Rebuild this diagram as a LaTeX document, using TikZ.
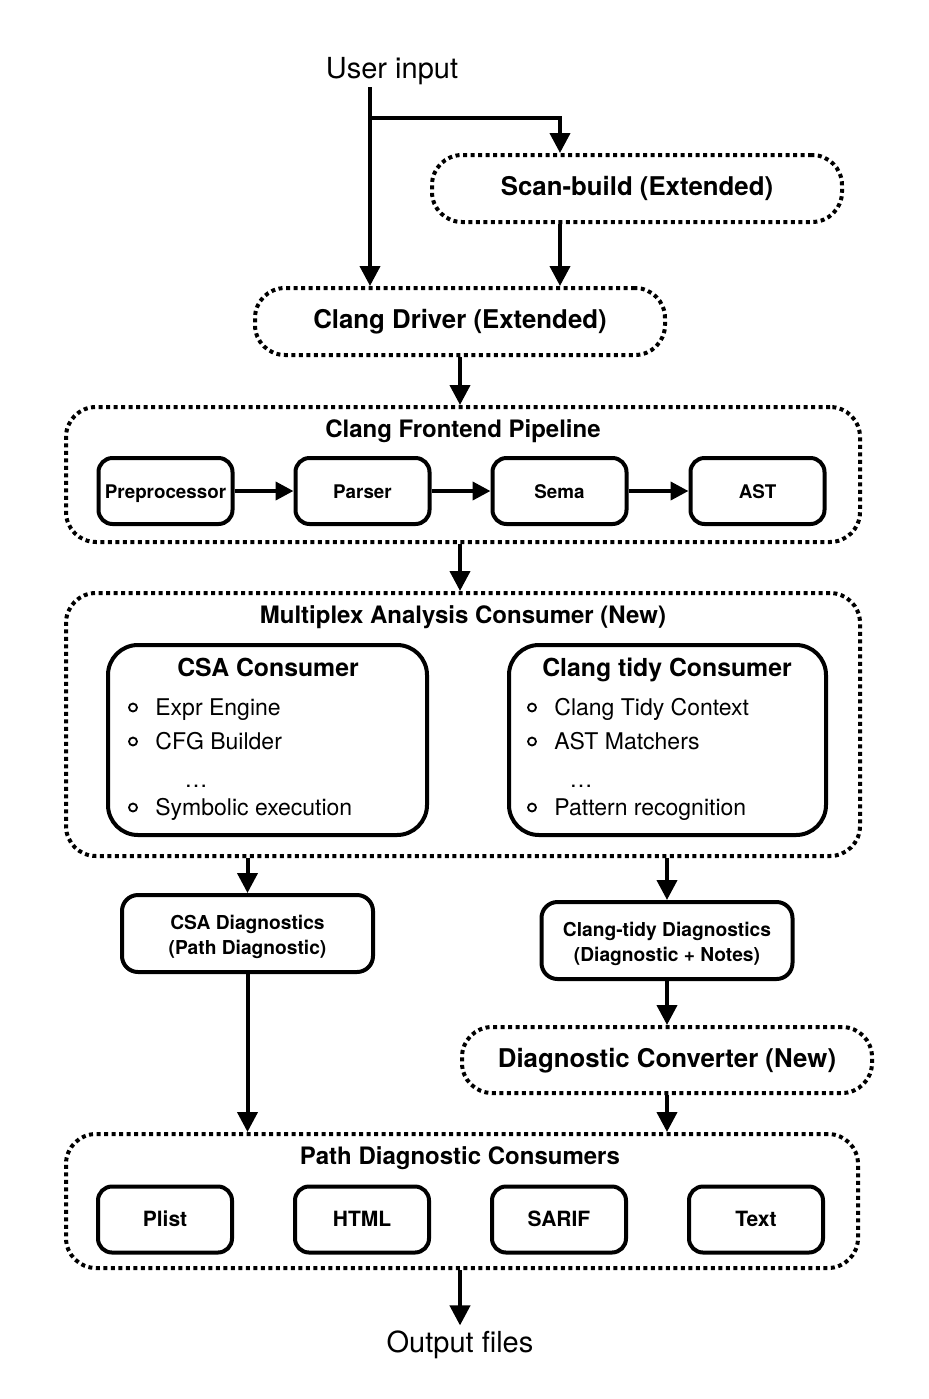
\documentclass[tikz,border=0pt]{standalone}
\usepackage{fontspec}
\setmainfont{TeX Gyre Heros}
\usetikzlibrary{arrows.meta,calc}
\begin{document}
\begin{tikzpicture}[x=0.5pt,y=-0.5pt,
  capc/.style={text height=0.72em, text depth=0pt},
  dotbox/.style={draw, line width=2pt, dash pattern=on 2pt off 1.75pt, rounded corners=15pt, inner sep=0pt, capc},
  solidbox/.style={draw, line width=2pt, rounded corners=7pt, inner sep=0pt, minimum width=67pt, minimum height=33pt, font=\fontsize{9.4}{11}\selectfont\bfseries, capc},
  consbox/.style={draw, line width=2pt, rounded corners=15pt, inner sep=0pt, minimum height=95pt},
  diagbox/.style={draw, line width=2pt, rounded corners=8pt, inner sep=0pt, minimum width=125.5pt, minimum height=38.5pt},
  diagtext/.style={align=center, inner sep=0pt, font=\fontsize{9.6}{12.5}\selectfont\bfseries},
  big/.style={font=\fontsize{12.9}{15}\selectfont\bfseries},
  ttl/.style={font=\fontsize{12}{14}\selectfont\bfseries, inner sep=0pt, capc},
  ctitle/.style={font=\fontsize{12.4}{14}\selectfont\bfseries, inner sep=0pt, capc},
  item/.style={font=\fontsize{11.5}{13}\selectfont, anchor=west, inner sep=0pt, capc},
  bul/.style={draw, circle, line width=0.9pt, minimum size=4pt, inner sep=0pt},
  io/.style={font=\fontsize{14.5}{16}\selectfont, inner sep=6pt, capc},
  arr/.style={line width=2pt, -{Triangle[width=10pt,length=10pt]}},
  sarr/.style={line width=2pt, -{Triangle[width=9pt,length=9pt]}}
]
\useasboundingbox (0,0) rectangle (929,1399);

% top
\node[io] (user) at (392,71) {User input};
\node[dotbox, big, minimum width=205pt, minimum height=33.5pt] (scan) at (637,188.5) {Scan-build (Extended)};
\node[dotbox, big, minimum width=205pt, minimum height=33.5pt] (driver) at (460,321.5) {Clang Driver (Extended)};
\coordinate (u0) at (370,87);
\coordinate (ub) at (370,118);
\coordinate (sx) at (560,0);
\coordinate (xa) at (460,0);
\draw[arr] (u0) -- (u0 |- driver.north);
\draw[arr] (ub) -| (scan.north -| sx);
\draw[arr] (scan.south -| sx) -- (driver.north -| sx);

% frontend
\node[dotbox, minimum width=397pt, minimum height=67.5pt] (fe) at (463,474.5) {};
\node[ttl] (fet) at (463,430) {Clang Frontend Pipeline};
\node[solidbox] (pre) at (165.5,491) {Preprocessor};
\node[solidbox] (par) at (362.5,491) {Parser};
\node[solidbox] (sem) at (559.5,491) {Sema};
\node[solidbox] (ast) at (757.5,491) {AST};
\draw[sarr] (pre) -- (par);
\draw[sarr] (par) -- (sem);
\draw[sarr] (sem) -- (ast);
\draw[arr] (driver.south -| xa) -- (fe.north -| xa);

% multiplex
\node[dotbox, minimum width=397pt, minimum height=131.5pt] (mx) at (463,724.5) {};
\node[ttl] (mxt) at (463,616) {Multiplex Analysis Consumer (New)};
\draw[arr] (fe.south -| xa) -- (mx.north -| xa);

\node[consbox, minimum width=159.5pt] (csa) at (267.5,740) {};
\node[ctitle] (csat) at (268,669) {CSA Consumer};
\node[bul] (cb1) at (133,707.5) {};
\node[bul] (cb2) at (133,741.5) {};
\node[bul] (cb3) at (133,807.5) {};
\node[item] (ci1) at (155,708) {Expr Engine};
\node[item] (ci2) at (155,742) {CFG Builder};
\node[item, anchor=center] (ci3) at (196,780) {…};
\node[item] (ci4) at (155,808) {Symbolic execution};

\node[consbox, minimum width=158.5pt] (tidy) at (667.5,740) {};
\node[ctitle] (tidyt) at (667,669) {Clang tidy Consumer};
\node[bul] (tb1) at (532,707.5) {};
\node[bul] (tb2) at (532,741.5) {};
\node[bul] (tb3) at (532,807.5) {};
\node[item] (ti1) at (554,708) {Clang Tidy Context};
\node[item] (ti2) at (554,742) {AST Matchers};
\node[item, anchor=center] (ti3) at (581,780) {…};
\node[item] (ti4) at (554,808) {Pattern recognition};

% diagnostics
\node[diagbox] (csad) at (247.5,933.5) {};
\node[diagtext] (csadt) at (247.5,936.5) {CSA Diagnostics\\(Path Diagnostic)};
\node[diagbox] (tidyd) at (667,940.5) {};
\node[diagtext] (tidydt) at (667,943.5) {Clang-tidy Diagnostics\\(Diagnostic + Notes)};
\node[dotbox, big, minimum width=205pt, minimum height=33pt] (conv) at (667,1060) {Diagnostic Converter (New)};
\draw[arr] (mx.south -| csad.north) -- (csad.north);
\draw[arr] (mx.south -| tidyd.north) -- (tidyd.north);
\draw[arr] (tidyd.south) -- (conv.north);

% path consumers
\node[dotbox, minimum width=396pt, minimum height=67pt] (pc) at (462,1201) {};
\node[ttl] (pct) at (460,1157) {Path Diagnostic Consumers};
\node[solidbox, font=\fontsize{10.5}{12}\selectfont\bfseries] (pl) at (165,1219.5) {Plist};
\node[solidbox, font=\fontsize{10.5}{12}\selectfont\bfseries] (ht) at (362,1219.5) {HTML};
\node[solidbox, font=\fontsize{10.5}{12}\selectfont\bfseries] (sa) at (559,1219.5) {SARIF};
\node[solidbox, font=\fontsize{10.5}{12}\selectfont\bfseries] (tx) at (756,1219.5) {Text};
\draw[arr] (csad.south) -- (csad.south |- pc.north);
\draw[arr] (conv.south) -- (conv.south |- pc.north);

\node[io] (out) at (460,1345) {Output files};
\draw[arr] (pc.south -| out.north) -- (out.north);
\end{tikzpicture}
\end{document}
